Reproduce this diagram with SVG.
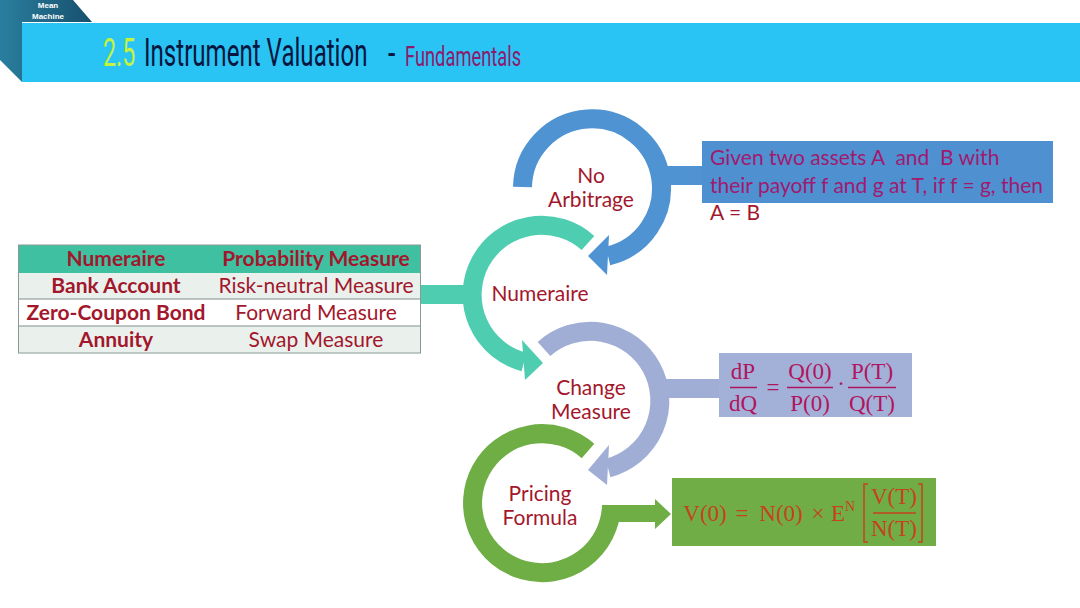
<svg xmlns="http://www.w3.org/2000/svg" width="1080" height="608" viewBox="0 0 1080 608">
<defs>
<style>
.t{font-family:"Lato","Open Sans","Liberation Sans",sans-serif;fill:#a3172c;text-anchor:middle}
.b{font-weight:700}
.l{font-size:21px}
.c{font-size:21px}
.m{font-family:"Liberation Serif","DejaVu Serif",serif;text-anchor:middle;font-size:23px}
.p{fill:#b01560}
.o{fill:#c4431a}
.ring{fill:none;stroke-width:19}
.ti{font-family:"Roboto","Liberation Sans",sans-serif;font-weight:400}
</style>
<linearGradient id="fold" x1="0" y1="0" x2="1" y2="0"><stop offset="0" stop-color="#2a7f9e"/><stop offset="1" stop-color="#174f6e"/></linearGradient>
</defs>
<rect width="1080" height="608" fill="#ffffff"/>
<g id="header">
<polygon points="0,0 73,0 92,22 22,22 22,82 0,60" fill="url(#fold)"/>
<rect x="22" y="23" width="1058" height="59" fill="#29c4f4"/>
<text x="48" y="8" text-anchor="middle" font-family="Liberation Sans,sans-serif" font-size="8" font-weight="700" fill="#ffffff">Mean</text>
<text x="48" y="19" text-anchor="middle" font-family="Liberation Sans,sans-serif" font-size="8" font-weight="700" fill="#ffffff">Machine</text>
<text class="ti" transform="translate(103,66) scale(.61,1)" font-size="38" fill="#c5f23c">2.5</text>
<text class="ti" transform="translate(144,66) scale(.634,1)" font-size="38" fill="#06163f">Instrument Valuation</text>
<text class="ti" transform="translate(388,66) scale(.7,1)" font-size="38" fill="#06163f">-</text>
<text class="ti" transform="translate(405,66) scale(.654,1)" font-size="28" fill="#8e1a6c">Fundamentals</text>
</g>
<g id="connectors">
<rect x="420" y="285" width="48" height="19" fill="#4ecdb0"/>
<rect x="664" y="166" width="40" height="19" fill="#4f93d2"/>
<rect x="664" y="379" width="57" height="19" fill="#a0aed6"/>
</g>
<g id="node-no-arbitrage">
<path class="ring" stroke="#4f93d2" d="M522.5,187 A69.5,69.5 0 1 1 608,256"/>
<polygon points="609,235 588,256 607,275" fill="#4f93d2"/>
<text class="t c" x="591" y="183">No</text>
<text class="t c" x="591" y="207">Arbitrage</text>
</g>
<g id="node-numeraire">
<path class="ring" stroke="#4ecdb0" d="M588,243 A69.5,69.5 0 1 0 524,362"/>
<polygon points="522,340 543,363 525,380" fill="#4ecdb0"/>
<text class="t c" x="540" y="301">Numeraire</text>
</g>
<g id="node-change-measure">
<path class="ring" stroke="#a0aed6" d="M544,349 A69.5,69.5 0 1 1 608,468"/>
<polygon points="609,445 588,470 607,485" fill="#a0aed6"/>
<text class="t c" x="591" y="395">Change</text>
<text class="t c" x="591" y="419">Measure</text>
</g>
<g id="node-pricing-formula">
<path class="ring" stroke="#6fae45" d="M588,451 A69.5,69.5 0 1 0 611.5,506"/>
<polygon points="602,505 655,505 655,499 671,514 655,529 655,522 618,522 602,522" fill="#6fae45"/>
<text class="t c" x="540" y="501">Pricing</text>
<text class="t c" x="540" y="525">Formula</text>
</g>
<g id="table">
<rect x="18.500" y="245" width="402" height="28" fill="#3fc0a0"/>
<rect x="18.500" y="273" width="402" height="26" fill="#eaf1ed"/>
<rect x="18.500" y="299" width="402" height="27" fill="#ffffff"/>
<rect x="18.500" y="326" width="402" height="27" fill="#eaf1ed"/>
<path d="M18.500,299H420.500M18.500,326H420.500" stroke="#7f8f87" stroke-width="1"/>
<rect x="18.500" y="245" width="402" height="108" fill="none" stroke="#8a9a92" stroke-width="1"/>
<text class="t b l" x="116" y="266">Numeraire</text>
<text class="t b l" x="316" y="266">Probability Measure</text>
<text class="t b l" x="116" y="293">Bank Account</text>
<text class="t l" x="316" y="293">Risk-neutral Measure</text>
<text class="t b l" x="116" y="320">Zero-Coupon Bond</text>
<text class="t l" x="316" y="320">Forward Measure</text>
<text class="t b l" x="116" y="347">Annuity</text>
<text class="t l" x="316" y="347">Swap Measure</text>
</g>
<g id="box-no-arbitrage">
<rect x="702" y="141" width="351" height="62" fill="#4f90d0"/>
<text class="t c" x="710" y="165" style="text-anchor:start;fill:#a01a70" xml:space="preserve">Given two assets A  and  B with</text>
<text class="t c" x="710" y="193" style="text-anchor:start;fill:#a01a70">their payoff f and g at T, if f = g, then</text>
<text class="t c" x="710" y="220" style="text-anchor:start">A = B</text>
</g>
<g id="box-change-measure">
<rect x="719" y="353" width="193" height="64" fill="#a3b1d8"/>
<g class="p">
<text class="m" x="743" y="379">dP</text><text class="m" x="743" y="411">dQ</text>
<text class="m" x="773" y="395">=</text>
<text class="m" x="810" y="379">Q(0)</text><text class="m" x="810" y="411">P(0)</text>
<text class="m" x="841" y="391">·</text>
<text class="m" x="872" y="379">P(T)</text><text class="m" x="872" y="411">Q(T)</text>
</g>
<path d="M730,387.500H757M787,387.500H833M848,387.500H896" stroke="#b01560" stroke-width="1.500" fill="none"/>
</g>
<g id="box-pricing-formula">
<rect x="672" y="478" width="264" height="68" fill="#70ad47"/>
<g class="o">
<text class="m" x="705" y="521">V(0)</text>
<text class="m" x="742" y="521">=</text>
<text class="m" x="781" y="521">N(0)</text>
<text class="m" x="818" y="521">×</text>
<text class="m" x="838" y="521">E</text>
<text class="m" x="850" y="511" style="font-size:14px">N</text>
<text class="m" x="894" y="504">V(T)</text>
<text class="m" x="894" y="536">N(T)</text>
</g>
<path d="M873,513H916" stroke="#c4431a" stroke-width="1.500" fill="none"/>
<path d="M868,484H864V542H868M918,484H922V542H918" stroke="#c4431a" stroke-width="1.500" fill="none"/>
</g>
</svg>
